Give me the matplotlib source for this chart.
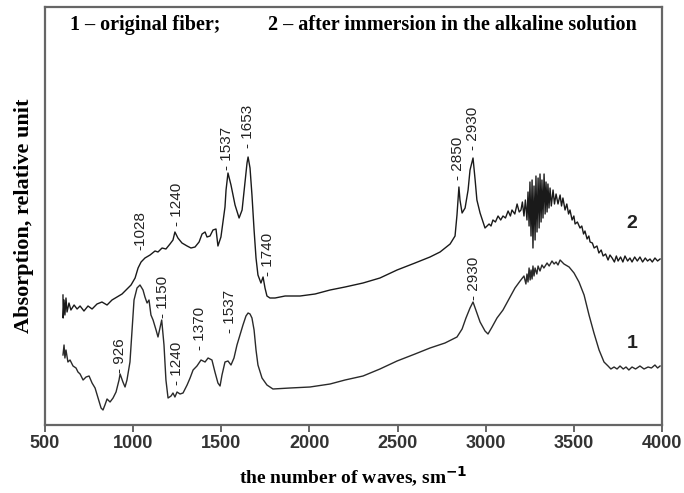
import matplotlib
matplotlib.use("Agg")
import matplotlib.pyplot as plt

# IR spectra (relative units)
# curve 2 - after immersion in the alkaline solution
wave_2a = [602, 603, 608, 613, 619, 625, 636, 647, 665, 682, 699, 721, 744, 767, 795,
           823, 852, 880, 908, 937, 965, 988, 1011, 1028, 1045, 1067, 1096, 1124, 1141,
           1164, 1186, 1209, 1226, 1237, 1254, 1277, 1306, 1328, 1351, 1374, 1391, 1408,
           1419, 1436, 1453, 1470, 1481, 1498, 1521, 1527, 1538, 1555, 1578, 1601, 1618,
           1635, 1646, 1652, 1663, 1674, 1686, 1697, 1708, 1725, 1737, 1748, 1759, 1776,
           1805, 1862, 1947, 2032, 2117, 2202, 2304, 2400, 2497, 2599, 2684, 2741, 2798,
           2826, 2837, 2848, 2854, 2866, 2883, 2900, 2911, 2928, 2940, 2950, 2968, 2996]
absorb_2a = [1.31, 1.08, 1.26, 1.11, 1.28, 1.14, 1.23, 1.16, 1.21, 1.17, 1.20, 1.15, 1.20,
             1.17, 1.22, 1.24, 1.21, 1.26, 1.29, 1.32, 1.37, 1.41, 1.48, 1.58, 1.64, 1.68,
             1.71, 1.75, 1.74, 1.78, 1.77, 1.82, 1.86, 1.94, 1.88, 1.83, 1.80, 1.78, 1.79,
             1.84, 1.92, 1.94, 1.89, 1.90, 1.96, 1.97, 1.80, 1.89, 2.19, 2.36, 2.53, 2.41,
             2.21, 2.08, 2.16, 2.44, 2.63, 2.69, 2.58, 2.31, 1.96, 1.68, 1.51, 1.43, 1.49,
             1.38, 1.30, 1.28, 1.28, 1.30, 1.30, 1.32, 1.36, 1.39, 1.43, 1.48, 1.56, 1.63,
             1.69, 1.74, 1.82, 1.90, 2.11, 2.39, 2.26, 2.13, 2.18, 2.36, 2.56, 2.68, 2.46,
             2.26, 2.13, 1.98]
wave_2b = [3019, 3030, 3041, 3055, 3070, 3085, 3098, 3112, 3127, 3140, 3149, 3165, 3178, 3190]
absorb_2b = [2.02, 2.00, 2.06, 2.04, 2.10, 2.06, 2.10, 2.08, 2.15, 2.10, 2.16, 2.12, 2.22, 2.14]
# noisy OH band
wave_2c = [3200, 3208, 3217, 3225, 3234, 3240, 3246, 3251, 3257, 3263, 3268, 3274, 3280,
           3285, 3291, 3297, 3303, 3308, 3314, 3319, 3325, 3331, 3337, 3342, 3348, 3353,
           3359, 3365, 3372, 3382, 3390, 3399, 3410]
absorb_2c = [2.16, 2.24, 2.10, 2.26, 2.06, 2.34, 2.00, 2.44, 1.90, 2.46, 1.78, 2.40, 1.86,
             2.50, 1.94, 2.48, 1.98, 2.52, 2.04, 2.46, 2.08, 2.52, 2.12, 2.44, 2.14, 2.42,
             2.18, 2.38, 2.20, 2.36, 2.22, 2.32, 2.22]
wave_2d = [3422, 3430, 3438, 3450, 3460, 3470, 3478, 3490, 3500, 3507, 3520, 3535, 3545,
           3555, 3563, 3575, 3585, 3592, 3605, 3615, 3631, 3642, 3655, 3666, 3680, 3694,
           3705, 3717, 3730, 3741, 3751, 3765, 3778, 3790, 3805, 3818, 3830, 3845, 3860,
           3875, 3890, 3905, 3918, 3932, 3945, 3960, 3975, 3989]
absorb_2d = [2.31, 2.20, 2.28, 2.16, 2.22, 2.12, 2.16, 2.06, 2.10, 2.02, 2.04, 1.98, 2.00,
             1.92, 1.95, 1.87, 1.90, 1.84, 1.83, 1.78, 1.80, 1.73, 1.76, 1.70, 1.72, 1.66,
             1.71, 1.68, 1.64, 1.70, 1.65, 1.69, 1.64, 1.70, 1.65, 1.68, 1.64, 1.69, 1.65,
             1.69, 1.64, 1.68, 1.65, 1.67, 1.64, 1.68, 1.65, 1.67]

# curve 1 - original fiber
wave_1a = [602, 608, 613, 619, 630, 642, 659, 676, 687, 699, 716, 733, 750, 767, 784,
           801, 818, 829, 840, 852, 869, 886, 903, 920, 926, 942, 954, 965, 982, 994,
           1005, 1022, 1039, 1056, 1067, 1079, 1090, 1101, 1113, 1130, 1141, 1152, 1162,
           1175, 1186, 1198, 1215, 1226, 1237, 1249, 1266, 1283, 1306, 1323, 1340, 1362,
           1385, 1408, 1425, 1447, 1464, 1481, 1493, 1504, 1521, 1538, 1555, 1572, 1589,
           1606, 1623, 1640, 1652, 1663, 1674, 1686, 1697, 1708, 1731, 1759, 1793, 1890,
           2003, 2117, 2202, 2304, 2400, 2497, 2599, 2684, 2769, 2837, 2866, 2888, 2911,
           2928, 2950, 2968, 2996, 3013, 3036, 3064, 3098, 3138, 3166, 3195]
absorb_1a = [0.71, 0.81, 0.68, 0.76, 0.64, 0.66, 0.60, 0.58, 0.54, 0.52, 0.46, 0.49, 0.50,
             0.43, 0.38, 0.28, 0.18, 0.16, 0.21, 0.27, 0.24, 0.28, 0.34, 0.46, 0.52, 0.44,
             0.39, 0.46, 0.64, 0.96, 1.26, 1.38, 1.41, 1.36, 1.29, 1.23, 1.26, 1.11, 1.06,
             0.96, 0.89, 0.98, 1.06, 0.81, 0.46, 0.28, 0.30, 0.33, 0.29, 0.34, 0.32, 0.33,
             0.41, 0.48, 0.56, 0.60, 0.66, 0.64, 0.68, 0.66, 0.54, 0.43, 0.40, 0.51, 0.64,
             0.65, 0.61, 0.68, 0.81, 0.91, 1.01, 1.10, 1.13, 1.12, 1.08, 0.96, 0.76, 0.61,
             0.48, 0.41, 0.37, 0.38, 0.39, 0.42, 0.46, 0.50, 0.57, 0.65, 0.72, 0.78, 0.83,
             0.89, 0.97, 1.08, 1.18, 1.24, 1.13, 1.04, 0.95, 0.92, 0.99, 1.08, 1.16, 1.29,
             1.38, 1.45]
wave_1b = [3217, 3228, 3234, 3240, 3246, 3252, 3257, 3263, 3268, 3274, 3280, 3290, 3297,
           3308, 3319, 3330, 3348, 3360, 3376, 3388, 3399, 3410, 3422, 3444]
absorb_1b = [1.50, 1.42, 1.52, 1.44, 1.58, 1.46, 1.56, 1.47, 1.60, 1.50, 1.58, 1.52, 1.60,
             1.55, 1.61, 1.58, 1.63, 1.60, 1.65, 1.62, 1.64, 1.61, 1.66, 1.62]
wave_1c = [3473, 3501, 3529, 3558, 3586, 3614, 3643, 3671, 3694, 3710, 3728, 3745, 3762,
           3780, 3796, 3812, 3830, 3850, 3875, 3898, 3921, 3940, 3960, 3975, 3989]
absorb_1c = [1.59, 1.53, 1.44, 1.31, 1.11, 0.93, 0.76, 0.64, 0.60, 0.57, 0.59, 0.57, 0.60,
             0.57, 0.59, 0.56, 0.59, 0.57, 0.60, 0.57, 0.59, 0.58, 0.61, 0.58, 0.60]

# peak labels: text, wavenumber, height of the label foot
peaks_2 = [("-1028", 1039, 1.76), ("- 1240", 1249, 2.00), ("- 1537", 1532, 2.56),
           ("- 1653", 1652, 2.78), ("- 1740", 1765, 1.50), ("- 2850", 2843, 2.46),
           ("- 2930", 2928, 2.76)]
peaks_1 = [("- 926", 925, 0.53), ("- 1150", 1169, 1.08), ("- 1240", 1249, 0.41),
           ("- 1370", 1379, 0.76), ("- 1537", 1550, 0.93), ("- 2930", 2934, 1.26)]

x_ticks = [500, 1000, 1500, 2000, 2500, 3000, 3500, 4000]

serif = "Liberation Serif"
sans = "Liberation Sans"

wave_2 = wave_2a + wave_2b + wave_2c + wave_2d
absorb_2 = absorb_2a + absorb_2b + absorb_2c + absorb_2d
wave_1 = wave_1a + wave_1b + wave_1c
absorb_1 = absorb_1a + absorb_1b + absorb_1c

fig = plt.figure(figsize=(6.84, 4.93), dpi=100)
ax = fig.add_axes([45 / 684, 1 - 425 / 493, 617 / 684, 418 / 493])

ax.plot(wave_2, absorb_2, color="#1a1a1a", lw=1.0)
ax.plot(wave_1, absorb_1, color="#2a2a2a", lw=1.0)

for txt, w, a in peaks_2 + peaks_1:
    ax.text(w, a, txt, rotation=90, ha="center", va="bottom",
            fontsize=11, family=sans, color="#222222")

ax.text(3830, 2.03, "2", fontsize=14, fontweight="bold", family=sans,
        ha="center", va="center", color="#222222")
ax.text(3830, 0.83, "1", fontsize=14, fontweight="bold", family=sans,
        ha="center", va="center", color="#222222")

ax.text(0.04, 0.957, "1 \u2013 original fiber;", transform=ax.transAxes,
        fontsize=14.5, fontweight="bold", family=serif, va="center")
ax.text(0.361, 0.957, "2 \u2013 after immersion in the alkaline solution",
        transform=ax.transAxes, fontsize=14.5, fontweight="bold", family=serif,
        va="center")

ax.set_xlim(500, 4000)
ax.set_ylim(0.01, 4.19)
ax.set_xticks(x_ticks)
ax.set_xticklabels([str(t) for t in x_ticks], fontsize=13, fontweight="bold",
                   family=sans, color="#333333")
ax.set_yticks([])
ax.tick_params(axis="x", direction="out", length=5, width=1.4, color="#666666", pad=2)

for s in ax.spines.values():
    s.set_color("#666666")
    s.set_linewidth(1.6)

ax.set_xlabel("the number of waves, sm$^{\\mathbf{-1}}$", fontsize=14,
              fontweight="bold", family=serif, labelpad=9)
ax.set_ylabel("Absorption, relative unit", fontsize=16, fontweight="bold",
              family=serif, labelpad=8)

fig.savefig("out.png", dpi=100, facecolor="white")
